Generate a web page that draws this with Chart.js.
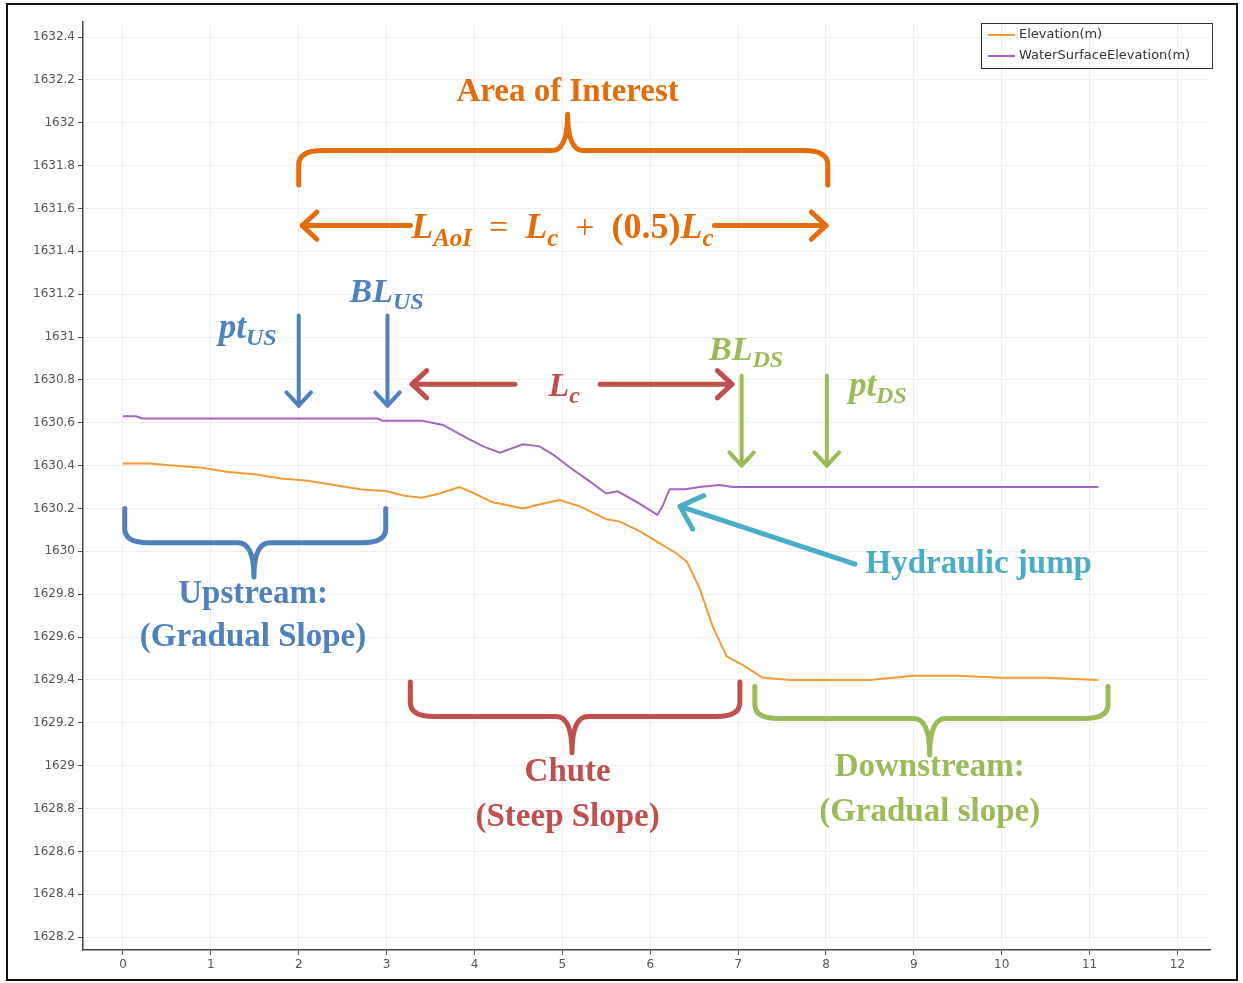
<!DOCTYPE html>
<html>
<head>
<meta charset="utf-8">
<script src="https://cdn.jsdelivr.net/npm/chart.js@4.4.1/dist/chart.umd.min.js"></script>
<style>
  html, body { margin: 0; padding: 0; background: #fff; }
  #chart { display: block; }
</style>
</head>
<body>
<canvas id="chart" width="1243" height="983"></canvas>
<script>
// axis ticks
const xTicks = [0, 1, 2, 3, 4, 5, 6, 7, 8, 9, 10, 11, 12];
const yTicks = [1628.2, 1628.4, 1628.6, 1628.8, 1629, 1629.2, 1629.4, 1629.6, 1629.8, 1630,
                1630.2, 1630.4, 1630.6, 1630.8, 1631, 1631.2, 1631.4, 1631.6, 1631.8, 1632, 1632.2, 1632.4];

// Elevation(m) - bed profile
const elevX = [0, 0.3, 0.6, 0.9, 1.2, 1.5, 1.8, 2.1, 2.4, 2.7, 3.0, 3.2, 3.4, 3.6, 3.83, 4.0, 4.2, 4.55, 4.75, 4.97,
               5.2, 5.5, 5.65, 5.9, 6.1, 6.3, 6.42, 6.56, 6.71, 6.87, 7.05, 7.28, 7.6, 8.0, 8.5, 9.0, 9.5, 10.0, 10.5, 11.1];
const elevY = [1630.41, 1630.41, 1630.40, 1630.39, 1630.37, 1630.36, 1630.34, 1630.33, 1630.31, 1630.29, 1630.28, 1630.26,
               1630.25, 1630.27, 1630.30, 1630.27, 1630.23, 1630.20, 1630.22, 1630.24, 1630.21, 1630.15, 1630.14, 1630.09,
               1630.04, 1629.99, 1629.95, 1629.83, 1629.65, 1629.51, 1629.47, 1629.41, 1629.40, 1629.40, 1629.40, 1629.42,
               1629.42, 1629.41, 1629.41, 1629.40];

// WaterSurfaceElevation(m)
const wseX = [0, 0.15, 0.22, 2.9, 2.95, 3.4, 3.64, 3.91, 4.1, 4.29, 4.55, 4.74, 4.9, 5.09, 5.3, 5.5, 5.63, 5.85, 6.08,
              6.14, 6.22, 6.4, 6.56, 6.79, 6.94, 8.0, 9.0, 10.0, 11.1];
const wseY = [1630.63, 1630.63, 1630.62, 1630.62, 1630.61, 1630.61, 1630.59, 1630.53, 1630.49, 1630.46, 1630.50, 1630.49,
              1630.45, 1630.39, 1630.33, 1630.27, 1630.28, 1630.23, 1630.17, 1630.21, 1630.29, 1630.29, 1630.30, 1630.31,
              1630.30, 1630.30, 1630.30, 1630.30, 1630.30];

const seriesNames = ['Elevation(m)', 'WaterSurfaceElevation(m)'];
const seriesColors = ['#F39C34', '#A464C0'];

const COL = { orange: '#E46C0A', blue: '#4F81BD', red: '#C0504D', green: '#9BBB59', cyan: '#4BACC6' };
const SERIF = '"Liberation Serif", "DejaVu Serif", serif';
const SANS = '"DejaVu Sans", "Liberation Sans", sans-serif';

function toPoints(xs, ys) {
    return xs.map((x, i) => ({ x: x, y: ys[i] }));
}

function arrowHead(ctx, fx, fy, tx, ty, len) {
    const a = Math.atan2(ty - fy, tx - fx);
    ctx.beginPath();
    ctx.moveTo(tx - len * Math.cos(a - 0.75), ty - len * Math.sin(a - 0.75));
    ctx.lineTo(tx, ty);
    ctx.lineTo(tx - len * Math.cos(a + 0.75), ty - len * Math.sin(a + 0.75));
    ctx.stroke();
}

function arrow(ctx, fx, fy, tx, ty, color, w, len) {
    ctx.strokeStyle = color;
    ctx.lineWidth = w;
    ctx.lineCap = 'round';
    ctx.lineJoin = 'round';
    ctx.beginPath();
    ctx.moveTo(fx, fy);
    ctx.lineTo(tx, ty);
    ctx.stroke();
    arrowHead(ctx, fx, fy, tx, ty, len);
}

// curly brace: ends at yEnd, long straight part at yMid, point at yTip
function brace(ctx, x1, x2, xc, yEnd, yMid, yTip, color) {
    const r1 = 24, r2 = 16;
    const s = Math.sign(yEnd - yMid);
    ctx.strokeStyle = color;
    ctx.lineWidth = 5;
    ctx.lineCap = 'round';
    ctx.lineJoin = 'round';
    ctx.beginPath();
    ctx.moveTo(x1, yEnd);
    ctx.lineTo(x1, yMid + s * 14);
    ctx.quadraticCurveTo(x1, yMid, x1 + r1, yMid);
    ctx.lineTo(xc - r2, yMid);
    ctx.quadraticCurveTo(xc, yMid, xc, yTip);
    ctx.quadraticCurveTo(xc, yMid, xc + r2, yMid);
    ctx.lineTo(x2 - r1, yMid);
    ctx.quadraticCurveTo(x2, yMid, x2, yMid + s * 14);
    ctx.lineTo(x2, yEnd);
    ctx.stroke();
}

function label(ctx, text, x, y, color, align) {
    ctx.font = 'bold 33px ' + SERIF;
    ctx.fillStyle = color;
    ctx.textAlign = align || 'center';
    ctx.textBaseline = 'middle';
    ctx.fillText(text, x, y);
}

// math-style text: segments [text, style, size, dy]
function rich(ctx, segs, cx, cy, color) {
    const fontOf = s => (s[1] === 'bi' ? 'italic bold ' : s[1] === 'b' ? 'bold ' : '') + s[2] + 'px ' + SERIF;
    let w = 0;
    segs.forEach(s => { ctx.font = fontOf(s); w += ctx.measureText(s[0]).width; });
    let x = cx - w / 2;
    ctx.fillStyle = color;
    ctx.textAlign = 'left';
    ctx.textBaseline = 'alphabetic';
    segs.forEach(s => {
        ctx.font = fontOf(s);
        ctx.fillText(s[0], x, cy + 12 + (s[3] || 0));
        x += ctx.measureText(s[0]).width;
    });
    return w;
}

const annotations = {
    id: 'annotations',
    afterDraw(chart) {
        const ctx = chart.ctx;
        const sx = chart.scales.x, sy = chart.scales.y;
        const X = v => sx.getPixelForValue(v);
        const Y = v => sy.getPixelForValue(v);
        ctx.save();

        // outer frame
        ctx.strokeStyle = '#111';
        ctx.lineWidth = 2;
        ctx.strokeRect(7, 4, 1230, 976);

        // legend
        const lx = chart.chartArea.right - 229, ly = chart.chartArea.top + 1;
        ctx.strokeStyle = '#333';
        ctx.lineWidth = 1;
        ctx.strokeRect(lx + 0.5, ly + 0.5, 231, 45);
        ctx.font = '13px ' + SANS;
        ctx.textAlign = 'left';
        ctx.textBaseline = 'middle';
        seriesNames.forEach((n, i) => {
            const yy = ly + 12 + i * 21;
            ctx.strokeStyle = seriesColors[i];
            ctx.lineWidth = 2;
            ctx.beginPath();
            ctx.moveTo(lx + 7, yy);
            ctx.lineTo(lx + 34, yy);
            ctx.stroke();
            ctx.fillStyle = '#333';
            ctx.fillText(n, lx + 38, yy);
        });

        // Area of Interest
        label(ctx, 'Area of Interest', X(5.06), Y(1632.14), COL.orange);
        brace(ctx, X(2.0), X(8.02), X(5.06), Y(1631.71), Y(1631.87), Y(1632.04), COL.orange);
        const aoiY = Y(1631.52);
        arrow(ctx, X(3.27), aoiY, X(2.04), aoiY, COL.orange, 5, 20);
        arrow(ctx, X(6.73), aoiY, X(8.0), aoiY, COL.orange, 5, 20);
        rich(ctx, [['L', 'bi', 36], ['AoI', 'bi', 25, 8], ['  =  ', '', 34], ['L', 'bi', 36], ['c', 'bi', 25, 8],
                   ['  +  ', '', 34], ['(0.5)', 'b', 36], ['L', 'bi', 36], ['c', 'bi', 25, 8]],
             X(5.0), aoiY, COL.orange);

        // upstream points
        arrow(ctx, X(2.0), Y(1631.10), X(2.0), Y(1630.68), COL.blue, 4, 18);
        arrow(ctx, X(3.01), Y(1631.10), X(3.01), Y(1630.68), COL.blue, 4, 18);
        rich(ctx, [['pt', 'bi', 35], ['US', 'bi', 24, 7]], X(1.42), Y(1631.05), COL.blue);
        rich(ctx, [['BL', 'bi', 34], ['US', 'bi', 24, 7]], X(3.0), Y(1631.22), COL.blue);

        // chute length
        const lcY = Y(1630.78);
        arrow(ctx, X(4.46), lcY, X(3.29), lcY, COL.red, 5, 20);
        arrow(ctx, X(5.43), lcY, X(6.93), lcY, COL.red, 5, 20);
        rich(ctx, [['L', 'bi', 34], ['c', 'bi', 24, 7]], X(5.02), lcY, COL.red);

        // downstream points
        arrow(ctx, X(7.04), Y(1630.82), X(7.04), Y(1630.40), COL.green, 4, 18);
        arrow(ctx, X(8.01), Y(1630.82), X(8.01), Y(1630.40), COL.green, 4, 18);
        rich(ctx, [['BL', 'bi', 34], ['DS', 'bi', 24, 7]], X(7.09), Y(1630.95), COL.green);
        rich(ctx, [['pt', 'bi', 35], ['DS', 'bi', 24, 7]], X(8.59), Y(1630.78), COL.green);

        // upstream brace
        brace(ctx, X(0.02), X(2.99), X(1.49), Y(1630.20), Y(1630.04), Y(1629.88), COL.blue);
        label(ctx, 'Upstream:', X(1.48), Y(1629.80), COL.blue);
        label(ctx, '(Gradual Slope)', X(1.48), Y(1629.60), COL.blue);

        // hydraulic jump
        arrow(ctx, X(8.33), Y(1629.94), X(6.34), Y(1630.21), COL.cyan, 5, 26);
        label(ctx, 'Hydraulic jump', X(8.45), Y(1629.94), COL.cyan, 'left');

        // chute brace
        brace(ctx, X(3.27), X(7.02), X(5.11), Y(1629.39), Y(1629.23), Y(1629.06), COL.red);
        label(ctx, 'Chute', X(5.06), Y(1628.97), COL.red);
        label(ctx, '(Steep Slope)', X(5.06), Y(1628.76), COL.red);

        // downstream brace
        brace(ctx, X(7.19), X(11.21), X(9.18), Y(1629.37), Y(1629.22), Y(1629.05), COL.green);
        label(ctx, 'Downstream:', X(9.18), Y(1628.99), COL.green);
        label(ctx, '(Gradual slope)', X(9.18), Y(1628.78), COL.green);

        ctx.restore();
    }
};

const axisCommon = {
    type: 'linear',
    grid: { color: '#efefef', lineWidth: 1, tickLength: 5, tickColor: '#555', drawOnChartArea: true },
    border: { color: '#444', width: 1.5 },
    ticks: { color: '#555', font: { family: SANS, size: 12 }, padding: 3 }
};

new Chart(document.getElementById('chart').getContext('2d'), {
    type: 'line',
    data: {
        datasets: [
            { label: seriesNames[0], data: toPoints(elevX, elevY), borderColor: seriesColors[0], borderWidth: 2,
              pointRadius: 0, tension: 0, fill: false },
            { label: seriesNames[1], data: toPoints(wseX, wseY), borderColor: seriesColors[1], borderWidth: 2,
              pointRadius: 0, tension: 0, fill: false }
        ]
    },
    options: {
        responsive: false,
        animation: false,
        layout: { padding: { left: 0, top: 22, right: 33, bottom: 0 } },
        plugins: { legend: { display: false }, tooltip: { enabled: false } },
        scales: {
            x: Object.assign({}, axisCommon, {
                min: -0.455, max: 12.37,
                afterBuildTicks: s => { s.ticks = xTicks.map(v => ({ value: v })); },
                afterFit: s => { s.height = 33; },
                ticks: Object.assign({}, axisCommon.ticks, { callback: v => String(v) })
            }),
            y: Object.assign({}, axisCommon, {
                min: 1628.14, max: 1632.47,
                afterBuildTicks: s => { s.ticks = yTicks.map(v => ({ value: v })); },
                afterFit: s => { s.width = 83; },
                ticks: Object.assign({}, axisCommon.ticks, { callback: v => String(+v.toFixed(1)) })
            })
        }
    },
    plugins: [annotations]
});
</script>
</body>
</html>
